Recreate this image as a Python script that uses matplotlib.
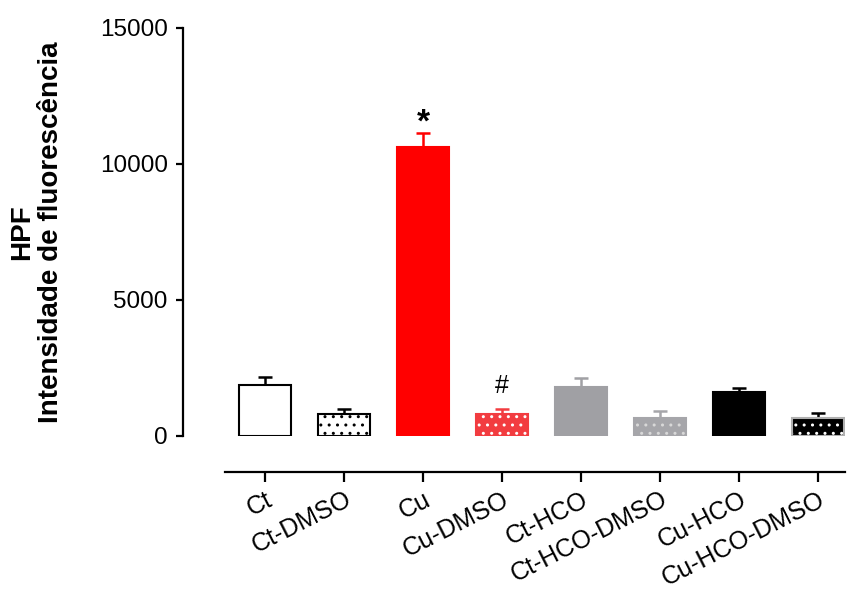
import numpy as np
import matplotlib
matplotlib.use("Agg")
import matplotlib.pyplot as plt

plt.rcParams['font.family'] = ['Liberation Sans', 'DejaVu Sans']
plt.rcParams['hatch.linewidth'] = 1.0

# data
groups = ['Ct', 'Ct-DMSO', 'Cu', 'Cu-DMSO', 'Ct-HCO', 'Ct-HCO-DMSO', 'Cu-HCO', 'Cu-HCO-DMSO']
means = [1875, 810, 10610, 810, 1790, 650, 1630, 650]
sem = [305, 170, 540, 180, 330, 270, 120, 185]

# styling per bar
face = ['white', 'white', '#FF0000', '#F23C40', '#A0A0A4', '#A6A6AA', '#000000', '#000000']
edge = ['black', 'black', '#FF0000', '#F23C40', '#A0A0A4', '#A6A6AA', '#000000', '#B0B0B0']
dots = [None, 'black', None, 'white', None, '#D8D8D8', None, 'white']
errc = ['black', 'black', '#FF0000', '#F23C40', '#A0A0A4', '#A6A6AA', '#000000', '#000000']

fig = plt.figure(figsize=(8.5, 5.92), dpi=100)
ax = fig.add_axes([183/850, 1 - 436/592, 662/850, 408/592])

x = np.arange(len(groups))
w = 0.66

# error bars (upper only)
for i in range(len(groups)):
    ax.errorbar(x[i], means[i], yerr=[[0], [sem[i]]], fmt='none',
                ecolor=errc[i], elinewidth=1.8, capsize=5, capthick=1.8, zorder=1)

# bars
for i in range(len(groups)):
    if dots[i] is None:
        ax.bar(x[i], means[i], w, color=face[i], edgecolor=edge[i], linewidth=1.5, zorder=2)
    else:
        ax.bar(x[i], means[i], w, color=face[i], edgecolor=dots[i], linewidth=0,
               hatch='..', zorder=2)
        ax.bar(x[i], means[i], w, color='none', edgecolor=edge[i], linewidth=1.5, zorder=3)

# significance marks
ax.text(2, 11500, '*', ha='center', va='center', fontsize=24, fontweight='bold')
ax.text(3, 1850, '#', ha='center', va='center', fontsize=18)

ax.set_xlim(-1.04, 7.34)
ax.set_ylim(0, 15000)
ax.set_yticks([0, 5000, 10000, 15000])
ax.set_xticks(x)
ax.set_xticklabels(groups)

for s in ['top', 'right']:
    ax.spines[s].set_visible(False)
ax.spines['left'].set_linewidth(1.6)
ax.spines['bottom'].set_linewidth(1.6)
ax.spines['bottom'].set_position(('outward', 26))
ax.spines['bottom'].set_bounds(-0.51, 7.34)

ax.tick_params(axis='y', length=5, width=1.6, labelsize=17.5, pad=6)
ax.tick_params(axis='x', length=7, width=1.6, labelsize=18, pad=4)
plt.setp(ax.get_xticklabels(), rotation=27, ha='right', va='top', rotation_mode='anchor')

fig.text(37/850, 1 - 232/592, 'HPF\nIntensidade de fluorescência',
         rotation=90, ha='center', va='center', multialignment='center',
         fontsize=20, fontweight='bold', linespacing=1.15)

plt.savefig("out.png", dpi=100)
